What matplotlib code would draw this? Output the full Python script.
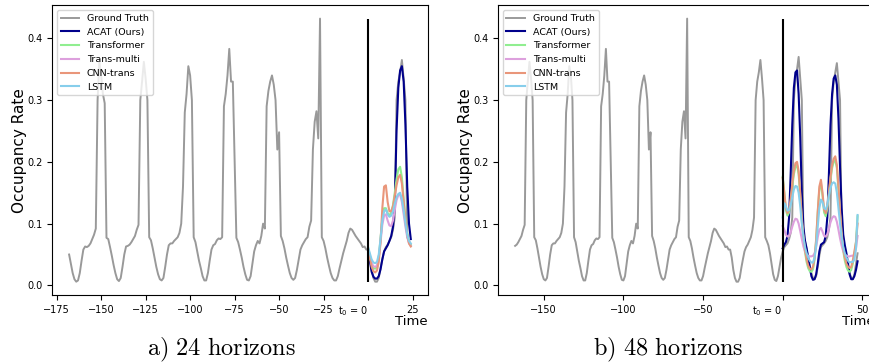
import numpy as np
import matplotlib.pyplot as plt

plt.rcParams['mathtext.fontset'] = 'cm'

# hourly ground truth, hours -168 .. 80 counted from the 24-horizon origin
truth = np.array([
    0.050, 0.035, 0.020, 0.010, 0.006, 0.008, 0.020, 0.040,
    0.058, 0.063, 0.062, 0.064, 0.068, 0.075, 0.082, 0.092,
    0.300, 0.362, 0.340, 0.310, 0.295, 0.077, 0.075, 0.062,
    0.048, 0.033, 0.020, 0.010, 0.007, 0.012, 0.030, 0.050,
    0.063, 0.064, 0.066, 0.070, 0.075, 0.080, 0.090, 0.098,
    0.300, 0.330, 0.362, 0.335, 0.300, 0.078, 0.073, 0.060,
    0.045, 0.030, 0.018, 0.010, 0.008, 0.012, 0.030, 0.050,
    0.065, 0.068, 0.068, 0.072, 0.075, 0.078, 0.085, 0.100,
    0.160, 0.280, 0.310, 0.355, 0.340, 0.300, 0.078, 0.070,
    0.055, 0.040, 0.028, 0.015, 0.008, 0.008, 0.020, 0.040,
    0.058, 0.065, 0.067, 0.073, 0.076, 0.075, 0.078, 0.290,
    0.310, 0.340, 0.383, 0.330, 0.330, 0.200, 0.077, 0.070,
    0.058, 0.045, 0.030, 0.018, 0.009, 0.008, 0.015, 0.035,
    0.055, 0.065, 0.072, 0.068, 0.080, 0.100, 0.092, 0.290,
    0.315, 0.330, 0.340, 0.325, 0.300, 0.220, 0.248, 0.080,
    0.072, 0.060, 0.045, 0.032, 0.020, 0.012, 0.009, 0.012,
    0.025, 0.042, 0.058, 0.065, 0.070, 0.075, 0.078, 0.095,
    0.105, 0.220, 0.265, 0.282, 0.238, 0.432, 0.078, 0.072,
    0.060, 0.045, 0.032, 0.020, 0.012, 0.008, 0.008, 0.015,
    0.028, 0.040, 0.052, 0.062, 0.072, 0.085, 0.092, 0.090,
    0.085, 0.080, 0.076, 0.072, 0.068, 0.062, 0.063, 0.058,
    0.058, 0.045, 0.025, 0.012, 0.006, 0.006, 0.012, 0.028,
    0.042, 0.055, 0.062, 0.066, 0.072, 0.078, 0.090, 0.110,
    0.300, 0.330, 0.345, 0.365, 0.335, 0.300, 0.078, 0.072,
    0.065, 0.052, 0.035, 0.018, 0.009, 0.007, 0.015, 0.030,
    0.045, 0.055, 0.062, 0.065, 0.068, 0.075, 0.085, 0.110,
    0.300, 0.335, 0.350, 0.370, 0.335, 0.300, 0.080, 0.072,
    0.058, 0.045, 0.030, 0.020, 0.012, 0.010, 0.015, 0.030,
    0.048, 0.062, 0.065, 0.068, 0.072, 0.078, 0.090, 0.110,
    0.300, 0.330, 0.345, 0.360, 0.330, 0.300, 0.080, 0.070,
    0.058, 0.045, 0.030, 0.020, 0.012, 0.010, 0.018, 0.035, 0.052,
])
truth_start = -168
shift_48 = 33  # origin of the 48-horizon plot is 33 hours later

# 24 horizons, t = 0 .. 24
acat_24 = [0.058, 0.040, 0.022, 0.014, 0.011, 0.011, 0.015, 0.026, 0.042, 0.055,
           0.060, 0.065, 0.072, 0.080, 0.095, 0.130, 0.250, 0.320, 0.348, 0.355,
           0.330, 0.260, 0.160, 0.100, 0.075]
transformer_24 = [0.060, 0.048, 0.034, 0.028, 0.027, 0.030, 0.045, 0.075, 0.108, 0.125,
                  0.125, 0.117, 0.113, 0.118, 0.130, 0.150, 0.172, 0.188, 0.192, 0.175,
                  0.140, 0.108, 0.085, 0.070, 0.065]
multi_24 = [0.056, 0.046, 0.036, 0.031, 0.030, 0.032, 0.045, 0.070, 0.098, 0.113,
            0.115, 0.105, 0.097, 0.096, 0.105, 0.122, 0.138, 0.146, 0.147, 0.135,
            0.115, 0.095, 0.078, 0.068, 0.064]
cnn_24 = [0.058, 0.045, 0.030, 0.023, 0.021, 0.024, 0.038, 0.070, 0.125, 0.160,
          0.162, 0.135, 0.120, 0.120, 0.128, 0.145, 0.162, 0.175, 0.179, 0.165,
          0.135, 0.105, 0.082, 0.068, 0.063]
lstm_24 = [0.062, 0.052, 0.042, 0.037, 0.036, 0.038, 0.050, 0.075, 0.105, 0.120,
           0.123, 0.115, 0.111, 0.113, 0.120, 0.132, 0.143, 0.148, 0.150, 0.140,
           0.122, 0.100, 0.082, 0.072, 0.068]

# 48 horizons, t = 0 .. 47
acat_48 = [0.060, 0.066, 0.070, 0.080, 0.110, 0.180, 0.260, 0.320, 0.345, 0.348,
           0.310, 0.240, 0.150, 0.095, 0.072, 0.060, 0.045, 0.030, 0.015, 0.009,
           0.010, 0.018, 0.035, 0.055, 0.066, 0.068, 0.070, 0.080, 0.110, 0.180,
           0.260, 0.310, 0.335, 0.340, 0.325, 0.270, 0.190, 0.125, 0.082, 0.065,
           0.052, 0.035, 0.018, 0.010, 0.010, 0.015, 0.025, 0.039]
transformer_48 = [0.176, 0.150, 0.122, 0.113, 0.118, 0.135, 0.160, 0.180, 0.192, 0.195,
                  0.180, 0.145, 0.105, 0.075, 0.054, 0.038, 0.028, 0.023, 0.022, 0.026,
                  0.042, 0.072, 0.118, 0.155, 0.165, 0.145, 0.118, 0.112, 0.124, 0.147,
                  0.172, 0.190, 0.200, 0.203, 0.190, 0.155, 0.115, 0.080, 0.056, 0.040,
                  0.030, 0.024, 0.022, 0.025, 0.035, 0.050, 0.070, 0.112]
multi_48 = [0.096, 0.090, 0.082, 0.079, 0.080, 0.086, 0.095, 0.103, 0.108, 0.107,
            0.100, 0.088, 0.075, 0.063, 0.055, 0.050, 0.048, 0.047, 0.047, 0.048,
            0.052, 0.062, 0.078, 0.090, 0.093, 0.087, 0.080, 0.079, 0.083, 0.092,
            0.102, 0.109, 0.112, 0.111, 0.103, 0.090, 0.076, 0.064, 0.055, 0.050,
            0.048, 0.047, 0.047, 0.048, 0.048, 0.050, 0.060, 0.080]
cnn_48 = [0.174, 0.150, 0.125, 0.117, 0.122, 0.140, 0.165, 0.185, 0.198, 0.200,
          0.185, 0.150, 0.110, 0.080, 0.058, 0.042, 0.032, 0.027, 0.026, 0.030,
          0.045, 0.075, 0.120, 0.160, 0.171, 0.150, 0.122, 0.117, 0.128, 0.150,
          0.175, 0.195, 0.205, 0.209, 0.195, 0.160, 0.120, 0.085, 0.060, 0.045,
          0.035, 0.030, 0.028, 0.030, 0.040, 0.055, 0.070, 0.100]
lstm_48 = [0.110, 0.133, 0.128, 0.121, 0.122, 0.130, 0.143, 0.155, 0.161, 0.160,
           0.150, 0.128, 0.100, 0.078, 0.062, 0.052, 0.045, 0.040, 0.037, 0.037,
           0.045, 0.065, 0.095, 0.125, 0.139, 0.135, 0.125, 0.123, 0.130, 0.145,
           0.158, 0.165, 0.167, 0.165, 0.150, 0.125, 0.100, 0.078, 0.062, 0.052,
           0.045, 0.040, 0.037, 0.038, 0.038, 0.042, 0.060, 0.114]

names = ['ACAT (Ours)', 'Transformer', 'Trans-multi', 'CNN-trans', 'LSTM']
colors = ['darkblue', 'lightgreen', 'plum', 'darksalmon', 'skyblue']


def draw(ax, t_gt, gt, preds, xticks):
    ax.plot(t_gt, gt, color='grey', alpha=0.8, lw=1.4, label='Ground Truth')
    for name, col, vals in zip(names, colors, preds):
        ax.plot(np.arange(len(vals)), vals, color=col, lw=1.5, label=name)
    ax.vlines(0, gt.min(), gt.max(), color='black', lw=1.5)
    ax.set_xticks(xticks)
    labels = ['$\\mathregular{t_0}$ = 0' if x == 0 else f'{x}' for x in xticks]
    labels = [l.replace('-', '\u2212') for l in labels]
    ax.set_xticklabels(labels)
    for lab, x in zip(ax.get_xticklabels(), xticks):
        if x == 0:
            lab.set_ha('right')
    ax.set_yticks([0.0, 0.1, 0.2, 0.3, 0.4])
    ax.tick_params(labelsize=7)
    ax.set_ylabel('Occupancy Rate', fontsize=11, labelpad=0)
    ax.text(1.0, -0.092, 'Time', transform=ax.transAxes, ha='right', va='center', fontsize=9.5)
    ax.legend(loc='upper left', fontsize=6.8)


fig = plt.figure(figsize=(8.7, 3.64), dpi=100)
ax1 = fig.add_axes([0.0598, 0.19, 0.432, 0.795])
ax2 = fig.add_axes([0.5724, 0.19, 0.433, 0.795])

hours = np.arange(len(truth)) + truth_start
left = hours <= len(acat_24) - 1
draw(ax1, hours[left], truth[left],
     [acat_24, transformer_24, multi_24, cnn_24, lstm_24],
     [-175, -150, -125, -100, -75, -50, -25, 0, 25])

right = hours >= truth_start + shift_48
draw(ax2, hours[right] - shift_48, truth[right],
     [acat_48, transformer_48, multi_48, cnn_48, lstm_48],
     [-150, -100, -50, 0, 50])

fig.text(0.255, 0.038, r'$\mathrm{a)\ 24\ horizons}$', ha='center', va='center', fontsize=17.5)
fig.text(0.768, 0.038, r'$\mathrm{b)\ 48\ horizons}$', ha='center', va='center', fontsize=17.5)

fig.savefig('out.png', dpi=100)
